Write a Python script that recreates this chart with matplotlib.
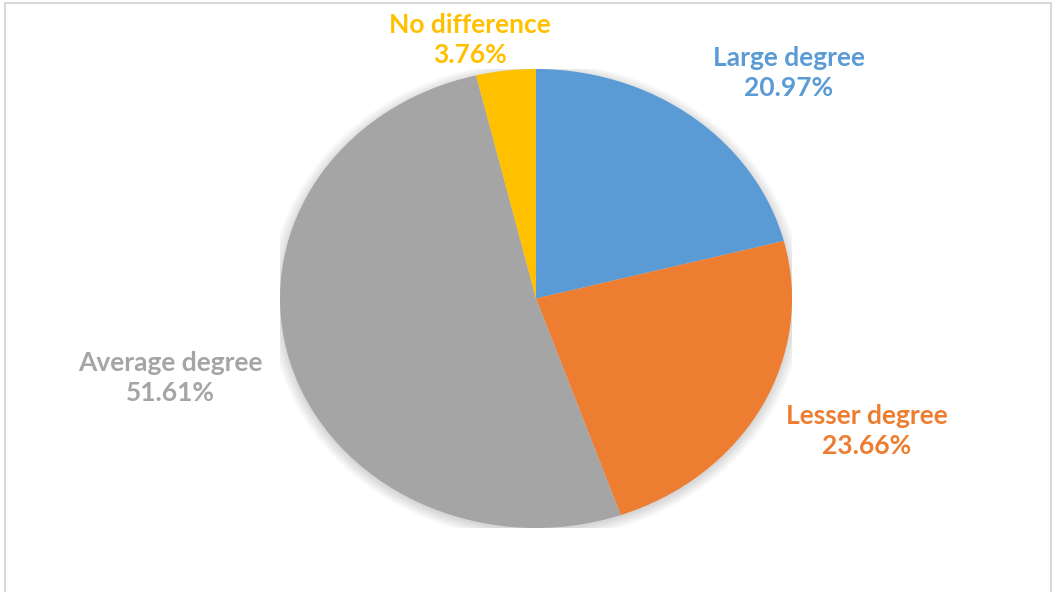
import matplotlib.pyplot as plt
from matplotlib.patches import Rectangle, Ellipse

# Data
categorias = ['Large degree', 'Lesser degree', 'Average degree', 'No difference']
valores = [20.97, 23.66, 51.61, 3.76]
cores = ['#5B9BD5', '#ED7D31', '#A5A5A5', '#FFC000']
# label centres in pixels (x, y from top)
pos_rotulos = [(789, 73), (867, 431), (170, 378), (470, 40)]

W, H = 1058, 592
fig = plt.figure(figsize=(W / 100, H / 100), dpi=100)
fig.patch.set_facecolor('white')

# border of chart area
fig.patches.append(Rectangle((5 / W, -0.01), (1051 - 5) / W, (H - 3) / H + 0.01,
                             transform=fig.transFigure, fill=False,
                             edgecolor='#D9D9D9', linewidth=1.5))

# pie region (elliptical, as in the reference)
x0, x1, y0, y1 = 280, 792, 69, 528
ax = fig.add_axes([x0 / W, (H - y1) / H, (x1 - x0) / W, (y1 - y0) / H])

# soft shadow
for i in range(8):
    ax.add_patch(Ellipse((0.0, -0.01), 2 + 0.012 * i, 2 + 0.012 * i,
                         facecolor='black', alpha=0.018, edgecolor='none', zorder=0))

ax.pie(valores, colors=cores, startangle=90, counterclock=False,
       wedgeprops=dict(linewidth=0), radius=1)
ax.set_aspect('auto')
ax.set_xlim(-1, 1)
ax.set_ylim(-1, 1)
ax.axis('off')

for nome, v, c, (px, py) in zip(categorias, valores, cores, pos_rotulos):
    fig.text(px / W, 1 - py / H, f"{nome}\n{v:.2f}%", ha='center', va='center',
             color=c, fontsize=19, fontweight='bold', family='Lato',
             linespacing=1.3)

fig.savefig('out.png', dpi=100)
